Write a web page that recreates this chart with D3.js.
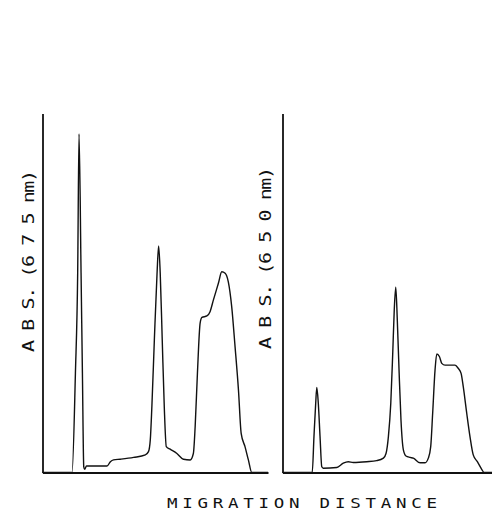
<!DOCTYPE html>
<html>
<head>
<meta charset="utf-8">
<script src="https://cdn.jsdelivr.net/npm/d3@7"></script>
<style>
  html, body { margin: 0; padding: 0; background: #fff; }
  #chart { width: 492px; height: 516px; }
  text { font-family: 'DejaVu Sans Mono', monospace; fill: #111; }
</style>
</head>
<body>
<div id="chart"></div>
<script>
/* Densitometer traces — two wavelengths, D3 v7 */

// migration distance (0-100) and absorbance (0-100)
const leftX = [0, 13.1, 14.6, 15.6, 16.2, 17.1, 17.7, 18.3, 18.7, 19.5, 28.6, 30.1, 31.5, 34.5, 40.4, 45.6, 47.0, 47.8, 48.5, 49.6,
    50.8, 51.5, 52.2, 53.1, 54.0, 54.9, 56.6, 59.6, 62.5, 65.5, 66.9, 67.7, 68.7, 69.9, 70.7, 72.9, 74.3, 75.8, 78.0, 79.5,
    81.0, 82.4, 83.9, 85.4, 86.9, 88.1, 89.8, 91.3, 92.8, 100];
const leftY = [0, 0, 27.7, 55.6, 94.3, 55.6, 27.7, 1.6, 0.9, 1.8, 1.8, 3.0, 3.5, 3.7, 4.2, 4.9, 5.8, 9.1, 18.3, 36.9,
    55.5, 63.1, 55.6, 36.9, 18.3, 7.2, 6.5, 5.3, 3.7, 3.5, 5.3, 12.8, 27.6, 41.6, 43.2, 43.6, 44.8, 48.1, 52.7, 55.9,
    55.5, 53.1, 46.2, 35.0, 23.0, 10.9, 7.2, 3.5, 0, 0];

const rightX = [0, 13.7, 14.5, 15.3, 15.8, 16.5, 17.3, 18.1, 18.8, 25.0, 28.0, 30.3, 32.6, 38.8, 43.4, 46.5, 47.7, 48.8, 49.9, 50.8,
    51.5, 52.2, 52.9, 53.7, 54.6, 55.7, 56.9, 58.8, 60.3, 63.4, 65.7, 67.2, 68.3, 69.2, 70.3, 71.1, 72.3, 73.4, 74.9, 79.5,
    81.0, 82.3, 83.3, 84.9, 86.4, 87.9, 89.8, 91.8, 92.9, 100];
const rightY = [0, 0, 10.0, 19.3, 23.7, 19.3, 10.0, 1.6, 1.2, 1.4, 2.6, 3.0, 2.8, 3.0, 3.3, 4.0, 5.3, 10.0, 19.3, 33.2,
    45.3, 51.6, 42.5, 28.6, 14.6, 6.3, 4.6, 4.2, 4.0, 2.7, 2.7, 4.0, 7.2, 16.5, 28.6, 33.0, 32.3, 30.4, 29.9, 29.9,
    29.0, 27.6, 23.9, 16.5, 10.0, 4.9, 3.0, 0.9, 0, 0];

const yLabels = ['A B S. (6 7 5 nm)', 'A B S. (6 5 0 nm)'];
const xLabel = 'MIGRATION DISTANCE';

const W = 492, H = 516;
const stretch = 1.25;   // plotter lettering is wider than the mono face
const svg = d3.select('#chart').append('svg').attr('width', W).attr('height', H);
svg.append('rect').attr('width', W).attr('height', H).attr('fill', '#fff');

function drawPanel(xs, ys, label, left, right, labelX, labelY) {
    const x = d3.scaleLinear().domain([0, 100]).range([left, right]);
    const y = d3.scaleLinear().domain([0, 100]).range([472.5, 113.5]);
    const g = svg.append('g');

    g.append('g').attr('transform', `translate(${left},0)`)
        .call(d3.axisLeft(y).ticks(0).tickSize(0))
        .call(a => a.select('.domain').attr('stroke', '#111').attr('stroke-width', 1.8));
    g.append('g').attr('transform', `translate(0,${y(0)})`)
        .call(d3.axisBottom(x).ticks(0).tickSize(0))
        .call(a => a.select('.domain').attr('stroke', '#111').attr('stroke-width', 1.8));

    const pts = xs.map((v, i) => [v, ys[i]]);
    const line = d3.line().x(d => x(d[0])).y(d => y(d[1])).curve(d3.curveMonotoneX);
    g.append('path').datum(pts).attr('fill', 'none').attr('stroke', '#111')
        .attr('stroke-width', 1.4).attr('stroke-linejoin', 'round').attr('d', line);

    g.append('text')
        .attr('transform', `translate(${labelX},${labelY}) rotate(-90) scale(${stretch},1)`)
        .attr('text-anchor', 'middle')
        .attr('font-size', '16px')
        .attr('textLength', 182 / stretch).attr('lengthAdjust', 'spacing')
        .text(label);
}

drawPanel(leftX, leftY, yLabels[0], 42.5, 268, 33.5, 261);
drawPanel(rightX, rightY, yLabels[1], 282.5, 499.5, 270.5, 258);

svg.append('text')
    .attr('transform', `translate(167,507.5) scale(${stretch},1)`)
    .attr('font-size', '14px')
    .attr('textLength', 270 / stretch).attr('lengthAdjust', 'spacing')
    .text(xLabel);
</script>
</body>
</html>
